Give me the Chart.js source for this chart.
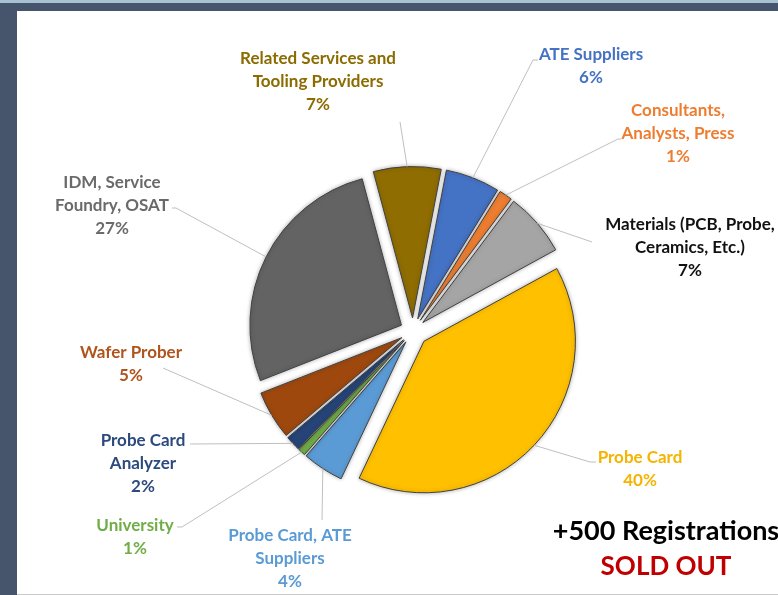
<!DOCTYPE html>
<html>
<head>
<meta charset="utf-8">
<script src="https://cdn.jsdelivr.net/npm/chart.js@4.4.0/dist/chart.umd.min.js"></script>
<style>
  html, body { margin: 0; padding: 0; }
  body { width: 778px; height: 595px; background: #46546c; position: relative; overflow: hidden; }
  .topband { position: absolute; left: 0; top: 0; width: 778px; height: 3px; background: #a8c2d2; }
  .paper { position: absolute; left: 17px; top: 11px; width: 761px; height: 583px; background: #fff; border-bottom: 1px solid #c9c9c9; }
  canvas { position: absolute; left: 0; top: 0; }
  .banner { position: absolute; width: 260px; left: 536px; text-align: center; font-family: Lato, sans-serif; font-weight: bold; font-size: 27px; line-height: 34px; }
</style>
</head>
<body>
<div class="topband"></div>
<div class="paper"></div>
<canvas id="myChart" width="778" height="595"></canvas>
<div class="banner" style="top:513px;color:#000">+500 Registrations</div>
<div class="banner" style="top:548px;color:#c00000;font-size:26px">SOLD OUT</div>
<script>
// clockwise from the top
const categories = [
  'Related Services and\nTooling Providers',
  'ATE Suppliers',
  'Consultants,\nAnalysts, Press',
  'Materials (PCB, Probe,\nCeramics, Etc.)',
  'Probe Card',
  'Probe Card, ATE\nSuppliers',
  'University',
  'Probe Card\nAnalyzer',
  'Wafer Prober',
  'IDM, Service\nFoundry, OSAT'
]
const shares = [7.2, 5.8, 1.4, 6.8, 40.0, 4.4, 0.8, 1.6, 5.2, 26.8]

const sliceColors = ['#8f6d00', '#4472c4', '#ed7d31', '#a5a5a5', '#ffc000', '#5b9bd5', '#70ad47', '#264478', '#9e480e', '#636363']
const labelColors = ['#8c6b00', '#4472c4', '#ed7d31', '#111111', '#f4b400', '#5b9bd5', '#70ad47', '#2c4a7e', '#b0541c', '#6a6a6a']
const explode = [13, 13, 13, 13, 15, 13, 13, 13, 13, 13]

// label block: centre x, first line y; leader points from the slice outwards
const labelPos = [
  { x: 318, y: 59, leader: [[400, 122]] },
  { x: 591, y: 55, leader: [[533, 60], [538, 60]] },
  { x: 678, y: 111, leader: [[618, 139], [621, 139]] },
  { x: 690, y: 225, leader: [[592, 242]] },
  { x: 640, y: 458, leader: [[590, 462], [596, 462]] },
  { x: 290, y: 536, leader: [[322, 520]] },
  { x: 135, y: 526, leader: [[182, 527], [177, 527]] },
  { x: 143, y: 441, leader: [[190, 444]] },
  { x: 131, y: 353, leader: [[163, 368]] },
  { x: 112, y: 183, leader: [[176, 208], [172, 208]] }
]

const explodePlugin = {
  id: 'explode',
  beforeDatasetsDraw(chart) {
    const ctx = chart.ctx
    const arcs = chart.getDatasetMeta(0).data
    arcs.forEach((arc, i) => {
      const mid = (arc.startAngle + arc.endAngle) / 2
      ctx.save()
      ctx.shadowColor = 'rgba(0,0,0,0.3)'
      ctx.shadowBlur = 4
      ctx.translate(Math.cos(mid) * explode[i], Math.sin(mid) * explode[i])
      arc.draw(ctx)
      ctx.restore()
    })
    return false
  }
}

const labelPlugin = {
  id: 'sliceLabels',
  afterDraw(chart) {
    const ctx = chart.ctx
    const arcs = chart.getDatasetMeta(0).data
    ctx.save()
    arcs.forEach((arc, i) => {
      const mid = (arc.startAngle + arc.endAngle) / 2
      const r = arc.outerRadius + explode[i]
      const pos = labelPos[i]
      ctx.strokeStyle = '#bfbfbf'
      ctx.lineWidth = 1
      ctx.beginPath()
      ctx.moveTo(arc.x + Math.cos(mid) * r, arc.y + Math.sin(mid) * r)
      pos.leader.forEach(p => ctx.lineTo(p[0], p[1]))
      ctx.stroke()

      const lines = categories[i].split('\n').concat(Math.round(shares[i]) + '%')
      ctx.fillStyle = labelColors[i]
      ctx.font = 'bold 17px Lato'
      ctx.textAlign = 'center'
      ctx.textBaseline = 'middle'
      lines.forEach((t, k) => ctx.fillText(t, pos.x, pos.y + k * 23))
    })
    ctx.restore()
  }
}

const ctx = document.getElementById('myChart')
new Chart(ctx, {
  type: 'pie',
  data: {
    labels: categories,
    datasets: [{
      data: shares,
      backgroundColor: sliceColors,
      borderColor: '#404040',
      borderWidth: 1
    }]
  },
  options: {
    responsive: false,
    animation: false,
    rotation: -15,
    layout: { padding: { left: 261, right: 213, top: 179, bottom: 112 } },
    plugins: {
      legend: { display: false },
      tooltip: { enabled: false }
    }
  },
  plugins: [explodePlugin, labelPlugin]
})
</script>
</body>
</html>
